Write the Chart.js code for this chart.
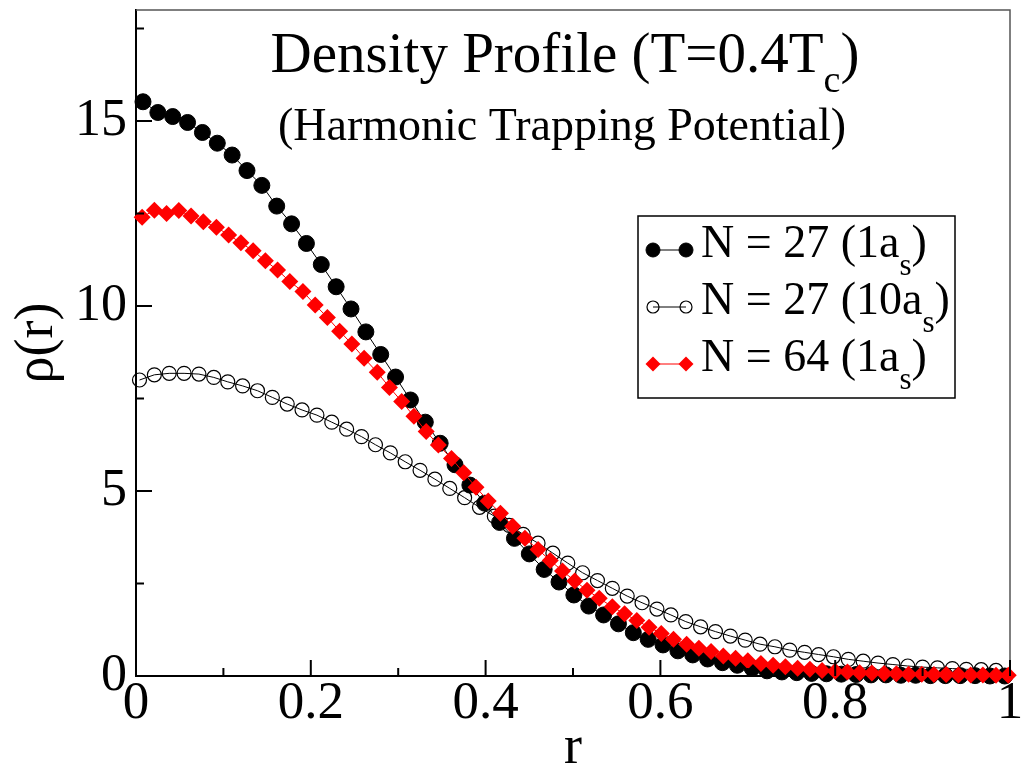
<!DOCTYPE html>
<html>
<head>
<meta charset="utf-8">
<script src="https://cdn.jsdelivr.net/npm/chart.js@4.4.1/dist/chart.umd.min.js"></script>
<style>
  html, body { margin: 0; padding: 0; background: #fff; }
  #wrap { width: 1021px; height: 765px; }
</style>
</head>
<body>
<div id="wrap"><canvas id="densityChart" width="1021" height="765"></canvas></div>
<script>
/* values */
var rBlack = [0.008, 0.025, 0.042, 0.059, 0.076, 0.093, 0.110, 0.127, 0.144, 0.161,
              0.178, 0.195, 0.212, 0.229, 0.246, 0.263, 0.280, 0.297, 0.314, 0.331,
              0.348, 0.365, 0.382, 0.399, 0.416, 0.433, 0.450, 0.467, 0.484, 0.501,
              0.518, 0.535, 0.552, 0.569, 0.586, 0.603, 0.620, 0.637, 0.654, 0.671,
              0.688, 0.705, 0.722, 0.739, 0.756, 0.773, 0.790, 0.807, 0.824, 0.841,
              0.858, 0.875, 0.892, 0.909, 0.926, 0.943, 0.960, 0.977, 0.994];
var rhoBlack = [15.52, 15.23, 15.12, 14.96, 14.69, 14.40, 14.08, 13.66, 13.26, 12.70,
                12.22, 11.69, 11.12, 10.52, 9.92, 9.30, 8.69, 8.08, 7.46, 6.86,
                6.29, 5.71, 5.16, 4.67, 4.15, 3.72, 3.30, 2.88, 2.54, 2.19,
                1.89, 1.65, 1.41, 1.17, 0.99, 0.84, 0.68, 0.57, 0.46, 0.36,
                0.29, 0.21, 0.14, 0.11, 0.09, 0.07, 0.06, 0.05, 0.04, 0.03,
                0.03, 0.02, 0.02, 0.01, 0.01, 0.01, 0.01, 0.00, 0.00];

var rOpen = [0.004, 0.021, 0.038, 0.055, 0.072, 0.089, 0.105, 0.122, 0.139, 0.156,
             0.173, 0.190, 0.207, 0.224, 0.241, 0.258, 0.274, 0.291, 0.308, 0.325,
             0.342, 0.359, 0.376, 0.393, 0.410, 0.427, 0.443, 0.460, 0.477, 0.494,
             0.511, 0.528, 0.545, 0.562, 0.579, 0.596, 0.612, 0.629, 0.646, 0.663,
             0.680, 0.697, 0.714, 0.731, 0.748, 0.765, 0.781, 0.798, 0.815, 0.832,
             0.849, 0.866, 0.883, 0.900, 0.917, 0.934, 0.950, 0.967, 0.984];
var rhoOpen = [8.00, 8.14, 8.18, 8.18, 8.16, 8.07, 7.95, 7.84, 7.71, 7.53,
               7.35, 7.19, 7.05, 6.86, 6.67, 6.47, 6.25, 6.03, 5.79, 5.56,
               5.32, 5.07, 4.82, 4.56, 4.32, 4.07, 3.83, 3.59, 3.32, 3.05,
               2.79, 2.58, 2.37, 2.16, 1.98, 1.81, 1.65, 1.47, 1.33, 1.20,
               1.08, 0.97, 0.86, 0.79, 0.70, 0.64, 0.58, 0.52, 0.45, 0.40,
               0.35, 0.31, 0.27, 0.24, 0.22, 0.20, 0.18, 0.17, 0.15];

var rRed = [0.007, 0.021, 0.035, 0.049, 0.063, 0.077, 0.092, 0.106, 0.120, 0.134,
            0.148, 0.162, 0.176, 0.191, 0.205, 0.219, 0.233, 0.247, 0.261, 0.276,
            0.290, 0.304, 0.318, 0.332, 0.346, 0.361, 0.375, 0.389, 0.403, 0.417,
            0.431, 0.445, 0.460, 0.474, 0.488, 0.502, 0.516, 0.530, 0.545, 0.559,
            0.573, 0.587, 0.601, 0.615, 0.630, 0.644, 0.658, 0.672, 0.686, 0.700,
            0.715, 0.729, 0.743, 0.757, 0.771, 0.785, 0.800, 0.814, 0.828, 0.842,
            0.856, 0.870, 0.884, 0.899, 0.913, 0.927, 0.941, 0.955, 0.969, 0.984,
            0.998];
var rhoRed = [12.40, 12.59, 12.50, 12.58, 12.43, 12.28, 12.13, 11.92, 11.71, 11.49,
              11.22, 10.97, 10.66, 10.39, 10.03, 9.69, 9.32, 8.97, 8.59, 8.21,
              7.80, 7.42, 7.02, 6.61, 6.24, 5.88, 5.49, 5.10, 4.73, 4.40,
              4.05, 3.72, 3.42, 3.12, 2.84, 2.57, 2.32, 2.10, 1.87, 1.68,
              1.50, 1.32, 1.15, 0.99, 0.86, 0.75, 0.66, 0.54, 0.48, 0.41,
              0.34, 0.29, 0.25, 0.21, 0.18, 0.15, 0.13, 0.11, 0.09, 0.08,
              0.07, 0.06, 0.05, 0.05, 0.04, 0.04, 0.03, 0.03, 0.03, 0.02,
              0.02];

// legend text: [main, subscript, tail]
var seriesNames = [['N = 27 (1a', 's', ')'], ['N = 27 (10a', 's', ')'], ['N = 64 (1a', 's', ')']];

var xTicks = [0, 0.2, 0.4, 0.6, 0.8, 1];
var xTickLabels = ['0', '0.2', '0.4', '0.6', '0.8', '1'];
var xMinor = [0.1, 0.3, 0.5, 0.7, 0.9];
var yTicks = [0, 5, 10, 15];
var yTickLabels = ['0', '5', '10', '15'];
var yMinor = [2.5, 7.5, 12.5, 17.5];

var SERIF = '"Liberation Serif", "Times New Roman", serif';

function toPoints(xs, ys) {
    var pts = [];
    for (var i = 0; i < xs.length; i++) pts.push({x: xs[i], y: ys[i]});
    return pts;
}

// text with one subscript part in the middle
function drawSubText(ctx, x, y, parts, size, subSize, drop, align) {
    ctx.font = size + 'px ' + SERIF;
    var w1 = ctx.measureText(parts[0]).width;
    var w3 = ctx.measureText(parts[2]).width;
    ctx.font = subSize + 'px ' + SERIF;
    var w2 = ctx.measureText(parts[1]).width;
    var x0 = align === 'center' ? x - (w1 + w2 + w3) / 2 : x;
    ctx.textAlign = 'left';
    ctx.textBaseline = 'alphabetic';
    ctx.fillText(parts[1], x0 + w1, y + drop);
    ctx.font = size + 'px ' + SERIF;
    ctx.fillText(parts[0], x0, y);
    ctx.fillText(parts[2], x0 + w1 + w2, y);
}

var decorPlugin = {
    id: 'decor',
    afterDatasetsDraw: function(chart) {
        var ctx = chart.ctx;
        var a = chart.chartArea;
        var xs = chart.scales.x, ys = chart.scales.y;
        ctx.save();

        // top and right frame
        ctx.strokeStyle = '#555';
        ctx.lineWidth = 1.5;
        ctx.beginPath();
        ctx.moveTo(a.left, a.top);
        ctx.lineTo(a.right, a.top);
        ctx.lineTo(a.right, a.bottom);
        ctx.stroke();

        // inward ticks
        ctx.strokeStyle = '#000';
        ctx.lineWidth = 2;
        ctx.beginPath();
        xTicks.forEach(function(v) {
            var px = xs.getPixelForValue(v);
            ctx.moveTo(px, a.bottom); ctx.lineTo(px, a.bottom - 16);
        });
        xMinor.forEach(function(v) {
            var px = xs.getPixelForValue(v);
            ctx.moveTo(px, a.bottom); ctx.lineTo(px, a.bottom - 8);
        });
        yTicks.forEach(function(v) {
            var py = ys.getPixelForValue(v);
            ctx.moveTo(a.left, py); ctx.lineTo(a.left + 16, py);
        });
        yMinor.forEach(function(v) {
            var py = ys.getPixelForValue(v);
            ctx.moveTo(a.left, py); ctx.lineTo(a.left + 8, py);
        });
        ctx.stroke();

        // title lines
        ctx.fillStyle = '#000';
        drawSubText(ctx, 565, 72, ['Density Profile (T=0.4T', 'c', ')'], 57, 38, 20, 'center');
        ctx.font = '46px ' + SERIF;
        ctx.textAlign = 'center';
        ctx.textBaseline = 'alphabetic';
        ctx.fillText('(Harmonic Trapping Potential)', 562, 140);

        // legend box
        var lx = 638, ly = 216, lw = 317, lh = 182;
        ctx.fillStyle = '#fff';
        ctx.fillRect(lx, ly, lw, lh);
        ctx.strokeStyle = '#000';
        ctx.lineWidth = 1.5;
        ctx.strokeRect(lx, ly, lw, lh);

        var baselines = [257, 314, 371];
        var symRadius = [7, 6, 7.5];
        chart.data.datasets.forEach(function(ds, i) {
            var yy = baselines[i] - 7;
            ctx.strokeStyle = ds.borderColor;
            ctx.lineWidth = ds.borderWidth;
            ctx.beginPath();
            ctx.moveTo(653, yy); ctx.lineTo(686, yy);
            ctx.stroke();
            ctx.fillStyle = ds.pointBackgroundColor;
            ctx.strokeStyle = ds.pointBorderColor;
            ctx.lineWidth = ds.pointBorderWidth;
            [653, 686].forEach(function(px) {
                Chart.helpers.drawPoint(ctx, {
                    pointStyle: ds.pointStyle, radius: symRadius[i],
                    borderWidth: ds.pointBorderWidth, rotation: 0
                }, px, yy);
            });
            ctx.fillStyle = '#000';
            drawSubText(ctx, 701, baselines[i], seriesNames[i], 46, 31, 18, 'left');
        });
        ctx.restore();
    }
};

var ctx = document.getElementById('densityChart').getContext('2d');
var densityChart = new Chart(ctx, {
    type: 'line',
    data: {
        datasets: [{
            label: seriesNames[0].join(''),
            data: toPoints(rBlack, rhoBlack),
            borderColor: '#000000',
            borderWidth: 1,
            pointStyle: 'circle',
            pointRadius: 8,
            pointBackgroundColor: '#000000',
            pointBorderColor: '#000000',
            pointBorderWidth: 1,
            clip: false,
            order: 3
        }, {
            label: seriesNames[1].join(''),
            data: toPoints(rOpen, rhoOpen),
            borderColor: '#000000',
            borderWidth: 1,
            pointStyle: 'circle',
            pointRadius: 7,
            pointBackgroundColor: 'rgba(0,0,0,0)',
            pointBorderColor: '#000000',
            pointBorderWidth: 1.2,
            clip: false,
            order: 2
        }, {
            label: seriesNames[2].join(''),
            data: toPoints(rRed, rhoRed),
            borderColor: '#ff0000',
            borderWidth: 1,
            pointStyle: 'rectRot',
            pointRadius: 8.5,
            pointBackgroundColor: '#ff0000',
            pointBorderColor: '#ff0000',
            pointBorderWidth: 0,
            clip: false,
            order: 1
        }]
    },
    options: {
        responsive: false,
        animation: false,
        events: [],
        layout: { padding: { left: 0, right: 11, top: 10, bottom: 0 } },
        elements: { line: { tension: 0 } },
        plugins: {
            legend: { display: false },
            tooltip: { enabled: false }
        },
        scales: {
            x: {
                type: 'linear',
                min: 0,
                max: 1,
                grid: { display: false, drawTicks: false },
                border: { display: true, color: '#000', width: 2 },
                ticks: {
                    color: '#000',
                    padding: 2,
                    maxRotation: 0,
                    font: { family: SERIF, size: 53, lineHeight: 1 },
                    callback: function(value) {
                        var i = xTicks.indexOf(value);
                        return i >= 0 ? xTickLabels[i] : '';
                    }
                },
                title: {
                    display: true,
                    text: 'r',
                    color: '#000',
                    font: { family: SERIF, size: 54, lineHeight: 0.6 },
                    padding: { top: 0, bottom: 0 }
                },
                afterBuildTicks: function(scale) {
                    scale.ticks = xTicks.map(function(v) { return {value: v}; });
                },
                afterFit: function(scale) {
                    scale.height = 89;
                    scale.paddingLeft = 0;
                    scale.paddingRight = 0;
                }
            },
            y: {
                type: 'linear',
                min: 0,
                max: 18,
                grid: { display: false, drawTicks: false },
                border: { display: true, color: '#000', width: 2 },
                ticks: {
                    color: '#000',
                    padding: 9,
                    font: { family: SERIF, size: 52, lineHeight: 1 },
                    callback: function(value) {
                        var i = yTicks.indexOf(value);
                        return i >= 0 ? yTickLabels[i] : '';
                    }
                },
                title: {
                    display: true,
                    text: 'ρ(r)',
                    color: '#000',
                    font: { family: SERIF, size: 54, lineHeight: 1 },
                    padding: { top: 11, bottom: 0 }
                },
                afterBuildTicks: function(scale) {
                    scale.ticks = yTicks.map(function(v) { return {value: v}; });
                },
                afterFit: function(scale) {
                    scale.width = 136;
                    scale.paddingTop = 0;
                    scale.paddingBottom = 0;
                }
            }
        }
    },
    plugins: [decorPlugin]
});
</script>
</body>
</html>
